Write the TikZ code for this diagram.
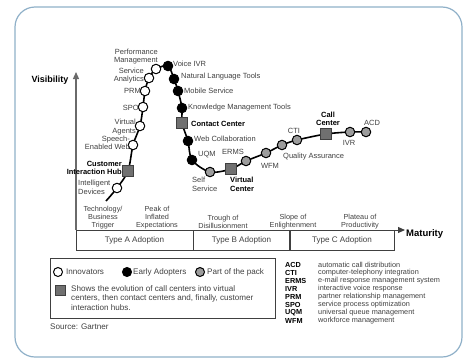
\documentclass[tikz,border=0pt]{standalone}
\usepackage{fontspec}
\setmainfont{Liberation Sans}
\usetikzlibrary{arrows.meta}

\definecolor{framecol}{HTML}{8FB0C8}
\definecolor{ink}{HTML}{404040}
\definecolor{axisgray}{HTML}{6A6A6A}
\definecolor{packgray}{HTML}{9C9C9C}
\definecolor{hubgray}{HTML}{707070}

\pgfdeclarelayer{back}
\pgfsetlayers{back,main}

\tikzset{
  lbl/.style={inner sep=0pt, text=ink, font=\fontsize{7.5}{8.5}\selectfont},
  blbl/.style={lbl, font=\fontsize{7.5}{8.5}\selectfont\bfseries, text=black},
  small/.style={inner sep=0pt, text=ink, font=\fontsize{7.3}{8}\selectfont},
  legtext/.style={inner sep=0pt, text=ink, font=\fontsize{8.1}{9.6}\selectfont},
  innov/.style={circle, draw=black, line width=1pt, fill=white, minimum size=9.5pt, inner sep=0pt},
  early/.style={innov, fill=black},
  pack/.style={innov, fill=packgray},
  hub/.style={rectangle, draw=ink, line width=0.8pt, fill=hubgray, minimum size=11.5pt, inner sep=0pt},
  axis/.style={draw=ink, line width=1pt, -{Triangle[length=7pt,width=6pt]}},
  tbl/.style={draw=ink, line width=0.8pt},
}

\begin{document}
\begin{tikzpicture}[x=1pt,y=-1pt]
  \useasboundingbox (0,0) rectangle (465,359);
  \draw[framecol, line width=1.2pt, rounded corners=20pt] (15,7) rectangle (462,357);

  % axes
  \coordinate (origin) at (76,230);
  \coordinate (vtip) at (76,72);
  \coordinate (htip) at (405,230);
  \draw[axis, draw=axisgray, line width=1.3pt] (origin) -- (vtip);
  \draw[axis] (origin) -- (htip);
  \node[inner sep=0pt, font=\fontsize{9}{10}\selectfont\bfseries] (visib) at (50,80) {Visibility};
  \node[inner sep=0pt, anchor=west, font=\fontsize{9.5}{10}\selectfont\bfseries] (matur) at (406,234) {Maturity};

  % adoption table
  \draw[tbl] (76,230) rectangle (394,250);
  \draw[tbl] (193,230) -- (193,250);
  \draw[tbl, line width=1.2pt] (290,230) -- (290,250);
  \node[legtext] (typea) at (134.5,240) {Type A Adoption};
  \node[legtext] (typeb) at (241.5,240) {Type B Adoption};
  \node[legtext] (typec) at (342,240) {Type C Adoption};

  % phases
  \node[small, align=center] (trigger) at (103,218) {Technology/\\Business\\Trigger};
  \node[small, align=center] (peak) at (157,218) {Peak of\\Inflated\\Expectations};
  \node[small, align=center] (trough) at (223,222) {Trough of\\Disillusionment};
  \node[small, align=center] (slope) at (293,222) {Slope of\\Enlightenment};
  \node[small, align=center] (plateau) at (360,222) {Plateau of\\Productivity};

  % markers on the curve
  \coordinate (start) at (106,201);
  \node[innov] (dev) at (117,188) {};
  \node[hub] (cih) at (128,171) {};
  \node[innov] (web) at (133,145) {};
  \node[innov] (agents) at (140,126) {};
  \node[innov] (spo) at (143,107) {};
  \node[innov] (prm) at (145,91) {};
  \node[innov] (analytics) at (149,78) {};
  \node[innov] (perf) at (156,69) {};
  \node[early] (vivr) at (168,66) {};
  \node[early] (nlt) at (174,79) {};
  \node[early] (mobile) at (178,91) {};
  \node[early] (kmt) at (182,108) {};
  \node[hub] (cc) at (182,123) {};
  \node[early] (webcol) at (188,141) {};
  \node[early] (uqm) at (192,160) {};
  \node[pack] (self) at (210,172) {};
  \node[hub] (vc) at (231,169) {};
  \node[pack] (erms) at (246,161) {};
  \node[pack] (wfm) at (266,153) {};
  \node[pack] (qa) at (282,145) {};
  \node[pack] (cti) at (297,140) {};
  \node[hub] (call) at (326,134) {};
  \node[pack] (ivr) at (350,132) {};
  \node[pack] (acd) at (366,132) {};

  \begin{pgfonlayer}{back}
    \draw[black, line width=1.6pt] plot[smooth, tension=0.5] coordinates {(start) (dev) (cih) (web) (agents) (spo) (prm) (analytics) (perf) (vivr) (nlt) (mobile) (kmt) (cc) (webcol) (uqm) (self) (vc) (erms) (wfm) (qa) (cti) (call) (ivr) (acd)};
  \end{pgfonlayer}

  % labels, left leg
  \node[lbl, align=right, anchor=east] (perfl) at (158,56.5) {Performance\\Management};
  \node[lbl, align=right, anchor=east] (analyticsl) at (144,75.5) {Service\\Analytics};
  \node[lbl, anchor=east] (prml) at (141,91) {PRM};
  \node[lbl, anchor=east] (spol) at (139,108) {SPO};
  \node[lbl, align=right, anchor=east] (agentsl) at (136,127) {Virtual\\Agents};
  \node[lbl, align=right, anchor=east] (webl) at (130,143) {Speech-\\Enabled Web};
  \node[blbl, align=right, anchor=east] (cihl) at (122,168) {Customer\\Interaction Hub};
  \node[lbl, align=left, anchor=west] (devl) at (78,187.5) {Intelligent\\Devices};

  % labels, right leg
  \node[lbl, anchor=west] (vivrl) at (173,64) {Voice IVR};
  \node[lbl, anchor=west] (nltl) at (181,77) {Natural Language Tools};
  \node[lbl, anchor=west] (mobilel) at (184,91) {Mobile Service};
  \node[lbl, anchor=west] (kmtl) at (188,108) {Knowledge Management Tools};
  \node[blbl, anchor=west] (ccl) at (191,124) {Contact Center};
  \node[lbl, anchor=west] (webcoll) at (194,139) {Web Collaboration};
  \node[lbl, anchor=west] (uqml) at (198,155) {UQM};
  \node[lbl, align=left, anchor=west] (selfl) at (192,184.5) {Self\\Service};
  \node[blbl, align=left, anchor=west] (vcl) at (230,184.5) {Virtual\\Center};
  \node[lbl] (ermsl) at (233,152) {ERMS};
  \node[lbl] (wfml) at (270,166) {WFM};
  \node[lbl, anchor=west] (qal) at (283,157) {Quality Assurance};
  \node[lbl] (ctil) at (294,131) {CTI};
  \node[blbl, align=center] (calll) at (328,119) {Call\\Center};
  \node[lbl] (ivrl) at (349,143) {IVR};
  \node[lbl] (acdl) at (372,123) {ACD};

  % legend
  \draw[tbl] (50,258) rectangle (275,318);
  \node[innov, minimum size=9pt] (kinnov) at (58,272) {};
  \node[legtext, anchor=west] (kinnovl) at (66,272) {Innovators};
  \node[early, minimum size=9pt] (kearly) at (127,272) {};
  \node[legtext, anchor=west] (kearlyl) at (133,272) {Early Adopters};
  \node[pack, minimum size=9pt] (kpack) at (200,272) {};
  \node[legtext, anchor=west] (kpackl) at (207,272) {Part of the pack};
  \node[hub, minimum size=10pt] (khub) at (60,290) {};
  \node[legtext, align=left, anchor=north west] (khubl) at (71,285) {Shows the evolution of call centers into virtual\\centers, then contact centers and, finally, customer\\interaction hubs.};
  \node[legtext, anchor=west] (source) at (50,327) {Source: Gartner};

  % abbreviations
  \foreach \abbr/\desc [count=\i from 0] in {ACD/automatic call distribution, CTI/computer-telephony integration, ERMS/e-mail response management system, IVR/interactive voice response, PRM/partner relationship management, SPO/service process optimization, UQM/universal queue management, WFM/workforce management}{
    \node[small, font=\fontsize{7.3}{8}\selectfont\bfseries, text=black, anchor=west] (ab\i) at (285,265+8*\i) {\abbr};
    \node[small, anchor=west] (de\i) at (318,265+8*\i) {\desc};
  }
\end{tikzpicture}
\end{document}
